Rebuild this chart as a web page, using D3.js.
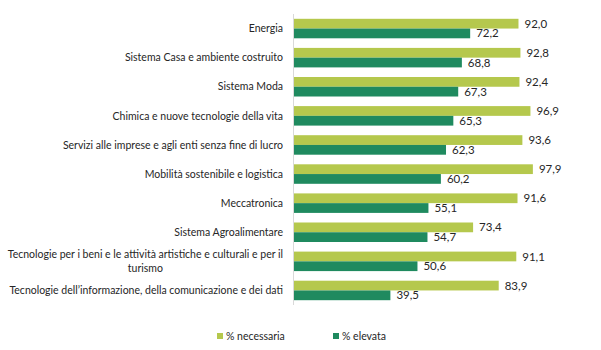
<!DOCTYPE html>
<html>
<head>
<meta charset="utf-8">
<script src="https://cdn.jsdelivr.net/npm/d3@7"></script>
<style>
  body { margin: 0; background: #fff; }
  text { font-family: Lato, "Open Sans", sans-serif; fill: #262626; }
</style>
</head>
<body>
<svg id="chart" width="601" height="350"></svg>
<script>
// Categories, top to bottom
const categories = [
  "Energia",
  "Sistema Casa e ambiente costruito",
  "Sistema Moda",
  "Chimica e nuove tecnologie della vita",
  "Servizi alle imprese e agli enti senza fine di lucro",
  "Mobilità sostenibile e logistica",
  "Meccatronica",
  "Sistema Agroalimentare",
  "Tecnologie per i beni e le attività artistiche e culturali e per il|turismo",
  "Tecnologie dell’informazione, della comunicazione e dei dati"
];
// Series values
const necessaria = [92.0, 92.8, 92.4, 96.9, 93.6, 97.9, 91.6, 73.4, 91.1, 83.9];
const elevata = [72.2, 68.8, 67.3, 65.3, 62.3, 60.2, 55.1, 54.7, 50.6, 39.5];
const seriesNames = ["% necessaria", "% elevata"];
const seriesColors = ["#b5c84d", "#1f8a5f"];

// Layout
const plotLeft = 294, plotRight = 538, plotTop = 14, plotBottom = 305;
const labelSize = "10.5px";

const svg = d3.select("#chart");

const x = d3.scaleLinear().domain([0, 100]).range([plotLeft, plotRight]);
const y = d3.scaleBand().domain(d3.range(categories.length))
    .range([plotTop, plotBottom]).paddingInner(0.33).paddingOuter(0.165);
const sub = d3.scaleBand().domain([0, 1]).range([0, y.bandwidth()]);

const fmt = v => v.toFixed(1).replace(".", ",");

// Bars for each category
const groups = svg.selectAll(".cat")
    .data(categories.map((c, i) => ({ i, vals: [necessaria[i], elevata[i]] })))
    .enter().append("g")
    .attr("class", "cat")
    .attr("transform", d => `translate(0,${y(d.i)})`);

groups.selectAll("rect")
    .data(d => d.vals.map((v, s) => ({ v, s })))
    .enter().append("rect")
    .attr("x", x(0))
    .attr("y", d => sub(d.s))
    .attr("width", d => x(d.v) - x(0))
    .attr("height", sub.bandwidth())
    .attr("fill", d => seriesColors[d.s]);

// Value labels
groups.selectAll(".val")
    .data(d => d.vals.map((v, s) => ({ v, s })))
    .enter().append("text")
    .attr("class", "val")
    .attr("x", d => x(d.v) + 6)
    .attr("y", d => sub(d.s) + sub.bandwidth() / 2)
    .attr("dy", "0.35em")
    .style("font-size", "11.5px")
    .text(d => fmt(d.v));

// Axis line
svg.append("line")
    .attr("x1", plotLeft - 0.5).attr("x2", plotLeft - 0.5)
    .attr("y1", plotTop).attr("y2", plotBottom)
    .attr("stroke", "#d9d9d9").attr("stroke-width", 1);

// Category labels
const labelX = 283;
categories.forEach((c, i) => {
  const lines = c.split("|");
  const cy = y(i) + y.bandwidth() / 2;
  if (lines.length === 1) {
    svg.append("text")
      .attr("x", labelX).attr("y", cy).attr("dy", "0.35em")
      .attr("text-anchor", "end")
      .style("font-size", labelSize)
      .text(c);
  } else {
    const t1 = svg.append("text")
      .attr("x", labelX).attr("y", cy - 7).attr("dy", "0.35em")
      .attr("text-anchor", "end")
      .style("font-size", labelSize)
      .text(lines[0]);
    const w = t1.node().getComputedTextLength();
    svg.append("text")
      .attr("x", labelX - w / 2).attr("y", cy + 7).attr("dy", "0.35em")
      .attr("text-anchor", "middle")
      .style("font-size", labelSize)
      .text(lines[1]);
  }
});

// Legend
const legendX = [217, 333];
seriesNames.forEach((n, s) => {
  svg.append("rect")
    .attr("x", legendX[s]).attr("y", 333)
    .attr("width", 6).attr("height", 6)
    .attr("fill", seriesColors[s]);
  svg.append("text")
    .attr("x", legendX[s] + 9).attr("y", 336).attr("dy", "0.35em")
    .style("font-size", labelSize)
    .text(n);
});
</script>
</body>
</html>
